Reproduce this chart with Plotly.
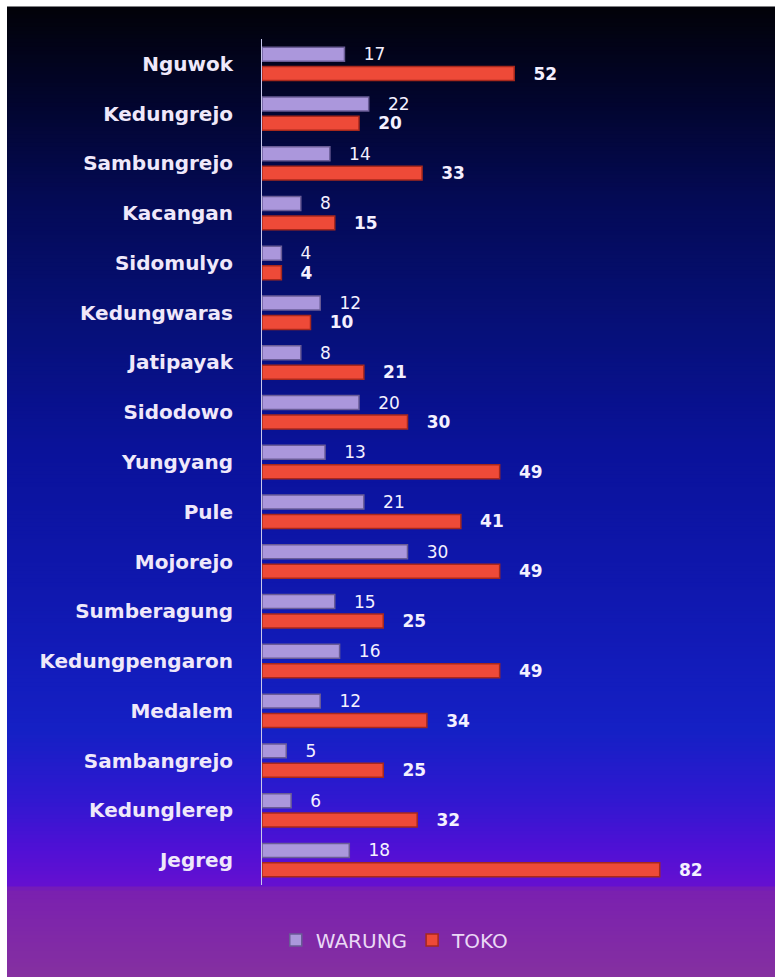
import plotly.graph_objects as go

categories = ["Nguwok", "Kedungrejo", "Sambungrejo", "Kacangan", "Sidomulyo", "Kedungwaras",
              "Jatipayak", "Sidodowo", "Yungyang", "Pule", "Mojorejo", "Sumberagung",
              "Kedungpengaron", "Medalem", "Sambangrejo", "Kedunglerep", "Jegreg"]
warung = [17, 22, 14, 8, 4, 12, 8, 20, 13, 21, 30, 15, 16, 12, 5, 6, 18]
toko = [52, 20, 33, 15, 4, 10, 21, 30, 49, 41, 49, 25, 49, 34, 25, 32, 82]

W, H = 775, 977
L, R, T, B = 262, 28, 39, 92
pw, ph = W - L - R, H - T - B
FONT = "DejaVu Sans"

fig = go.Figure()
fig.add_trace(go.Bar(
    y=categories, x=warung, name="WARUNG", orientation="h",
    marker=dict(color="#ab97dc", line=dict(color="#6a5c96", width=1.5)),
    texttemplate="   %{x}", textposition="outside", cliponaxis=False,
    constraintext="none",
    textfont=dict(family=FONT, size=17, color="#f4f0ff"),
))
fig.add_trace(go.Bar(
    y=categories, x=toko, name="TOKO", orientation="h",
    marker=dict(color="#ee4a38", line=dict(color="#a8281c", width=1.5)),
    texttemplate="   <b>%{x}</b>", textposition="outside", cliponaxis=False,
    constraintext="none",
    textfont=dict(family=FONT, size=17, color="#f4f0ff"),
))

# background gradient (styling only)
stops = [(7, (2, 2, 8)), (100, (2, 5, 45)), (200, (4, 10, 85)), (333, (6, 16, 122)),
         (450, (10, 18, 154)), (600, (16, 24, 176)), (733, (21, 32, 197)),
         (800, (48, 24, 208)), (850, (80, 16, 213)), (886, (101, 16, 208)),
         (890, (122, 32, 176)), (977, (133, 48, 160))]

def col_at(y):
    for (y0, c0), (y1, c1) in zip(stops[:-1], stops[1:]):
        if y0 <= y <= y1:
            t = (y - y0) / (y1 - y0) if y1 > y0 else 0
            return "rgb(%d,%d,%d)" % tuple(round(a + (b - a) * t) for a, b in zip(c0, c1))
    return "rgb(%d,%d,%d)" % stops[-1][1]

shapes = []
x0p = (7 - L) / pw
x1p = (W - L) / pw
step = 4
y = 7
while y < H:
    y2 = min(y + step, H)
    shapes.append(dict(type="rect", xref="paper", yref="paper", layer="below",
                       x0=x0p, x1=x1p,
                       y0=(H - B - y2) / ph, y1=(H - B - y) / ph + 0.0005,
                       fillcolor=col_at((y + y2) / 2), line=dict(width=0)))
    y = y2

fig.update_layout(
    width=W, height=H,
    margin=dict(l=L, r=R, t=T, b=B),
    paper_bgcolor="white", plot_bgcolor="rgba(0,0,0,0)",
    barmode="group", bargap=0.22, bargroupgap=0.28,
    shapes=shapes,
    showlegend=True,
    legend=dict(orientation="h", xref="container", yref="container",
                x=0.51, y=0.0378, xanchor="center", yanchor="middle",
                font=dict(family=FONT, size=20, color="#ead8f6"),
                bgcolor="rgba(0,0,0,0)", itemwidth=30),
    font=dict(family=FONT),
)
fig.update_xaxes(range=[0, 100], showgrid=False, zeroline=False, showticklabels=False,
                 showline=False, ticks="")
fig.update_yaxes(autorange="reversed", showgrid=False, zeroline=False,
                 showline=True, linecolor="#c8c8ec", linewidth=1, ticks="",
                 ticklabelstandoff=24,
                 tickfont=dict(family=FONT, size=20, color="#efe8fa", weight="bold"))

fig.write_html("out.html", config={"displayModeBar": False},
               post_script="document.body.style.margin='0';")
